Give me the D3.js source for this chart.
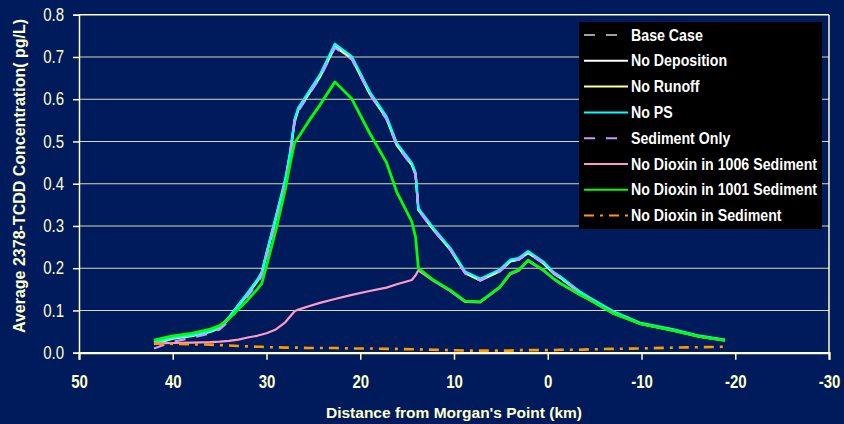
<!DOCTYPE html>
<html>
<head>
<meta charset="utf-8">
<script src="https://cdn.jsdelivr.net/npm/d3@7"></script>
<style>
  html, body { margin: 0; padding: 0; background: #001b5c; }
  svg { display: block; }
  text { font-family: "Liberation Sans", Arial, sans-serif; }
</style>
</head>
<body>
<svg id="chart" width="844" height="424"></svg>
<script>
// Distance from Morgan's Point (km), shared by every scenario
const distanceKm = [42, 40, 38, 36, 35, 34, 33, 32, 31, 30.5, 30, 29, 28, 27.5, 27, 26.6, 25.5, 24.3, 22.7, 20.9, 19, 17.2, 16.1, 14.5, 14.1, 13.8, 12.2, 10.4, 8.8, 7.2, 5.1, 4.0, 3.1, 2.1, 0.5, -0.6, -1.3, -3.4, -4.5, -7, -9.8, -13.4, -16.2, -18.9];

// Average 2378-TCDD concentration (pg/L) per scenario
const baseCase = [0.024, 0.036, 0.040, 0.050, 0.060, 0.082, 0.112, 0.140, 0.170, 0.190, 0.235, 0.320, 0.408, 0.470, 0.550, 0.578, 0.615, 0.656, 0.728, 0.699, 0.616, 0.557, 0.494, 0.447, 0.424, 0.340, 0.293, 0.246, 0.190, 0.173, 0.195, 0.218, 0.222, 0.238, 0.214, 0.189, 0.179, 0.143, 0.128, 0.097, 0.070, 0.054, 0.039, 0.030];
const noDeposition = [0.026, 0.038, 0.043, 0.053, 0.062, 0.084, 0.113, 0.141, 0.171, 0.190, 0.235, 0.320, 0.407, 0.469, 0.549, 0.577, 0.614, 0.655, 0.727, 0.698, 0.615, 0.556, 0.493, 0.446, 0.423, 0.339, 0.292, 0.245, 0.189, 0.172, 0.194, 0.217, 0.221, 0.237, 0.213, 0.188, 0.178, 0.143, 0.128, 0.096, 0.069, 0.053, 0.039, 0.030];
const noRunoff = [0.020, 0.033, 0.039, 0.049, 0.058, 0.080, 0.110, 0.138, 0.168, 0.188, 0.232, 0.317, 0.405, 0.466, 0.547, 0.575, 0.612, 0.652, 0.724, 0.696, 0.613, 0.554, 0.491, 0.444, 0.421, 0.338, 0.291, 0.244, 0.188, 0.171, 0.193, 0.216, 0.220, 0.236, 0.212, 0.188, 0.178, 0.142, 0.127, 0.096, 0.069, 0.053, 0.038, 0.029];
const noPS = [0.024, 0.036, 0.041, 0.051, 0.061, 0.083, 0.113, 0.142, 0.172, 0.191, 0.236, 0.322, 0.410, 0.472, 0.553, 0.580, 0.617, 0.658, 0.731, 0.701, 0.618, 0.559, 0.496, 0.449, 0.426, 0.342, 0.295, 0.248, 0.192, 0.175, 0.197, 0.220, 0.224, 0.240, 0.216, 0.191, 0.181, 0.145, 0.130, 0.098, 0.071, 0.055, 0.040, 0.031];
const sedimentOnly = [0.010, 0.026, 0.035, 0.046, 0.055, 0.075, 0.105, 0.134, 0.163, 0.183, 0.225, 0.310, 0.400, 0.462, 0.545, 0.572, 0.610, 0.650, 0.722, 0.694, 0.612, 0.552, 0.489, 0.443, 0.420, 0.337, 0.290, 0.243, 0.187, 0.171, 0.193, 0.216, 0.220, 0.236, 0.212, 0.188, 0.178, 0.142, 0.127, 0.096, 0.069, 0.053, 0.038, 0.029];
const noDioxin1006 = [0.022, 0.023, 0.024, 0.025, 0.026, 0.028, 0.031, 0.036, 0.040, 0.043, 0.046, 0.055, 0.072, 0.085, 0.098, 0.102, 0.110, 0.118, 0.127, 0.137, 0.146, 0.154, 0.162, 0.172, 0.183, 0.195, 0.170, 0.146, 0.120, 0.119, 0.154, 0.186, 0.194, 0.217, 0.195, 0.175, 0.164, 0.137, 0.124, 0.092, 0.069, 0.052, 0.038, 0.029];
const noDioxin1001 = [0.030, 0.040, 0.046, 0.056, 0.064, 0.080, 0.103, 0.125, 0.150, 0.164, 0.205, 0.290, 0.385, 0.445, 0.497, 0.510, 0.548, 0.586, 0.641, 0.601, 0.520, 0.450, 0.380, 0.310, 0.274, 0.200, 0.172, 0.148, 0.122, 0.121, 0.156, 0.188, 0.196, 0.219, 0.196, 0.176, 0.165, 0.138, 0.125, 0.093, 0.069, 0.052, 0.038, 0.029];
const noDioxinSediment = [0.022, 0.021, 0.020, 0.019, 0.018, 0.017, 0.016, 0.015, 0.014, 0.014, 0.013, 0.013, 0.012, 0.012, 0.012, 0.012, 0.011, 0.011, 0.011, 0.010, 0.010, 0.009, 0.009, 0.008, 0.008, 0.008, 0.007, 0.006, 0.005, 0.005, 0.005, 0.005, 0.006, 0.006, 0.006, 0.006, 0.007, 0.007, 0.008, 0.009, 0.010, 0.012, 0.013, 0.014];

const seriesNames = ["Base Case", "No Deposition", "No Runoff", "No PS", "Sediment Only", "No Dioxin in 1006 Sediment", "No Dioxin in 1001 Sediment", "No Dioxin in Sediment"];
const seriesValues = [baseCase, noDeposition, noRunoff, noPS, sedimentOnly, noDioxin1006, noDioxin1001, noDioxinSediment];
const seriesColors = ["#a0a0a0", "#ffffff", "#ffff99", "#00ffff", "#cc99ff", "#ff99cc", "#00ff00", "#ff9900"];
const seriesDashes = ["11,11", null, null, null, "11,11", null, null, "10,6,3,6"];
const seriesWidths = [2.2, 2.2, 2.2, 2.4, 2.2, 2.2, 2.8, 2.6];

const xTicks = [50, 40, 30, 20, 10, 0, -10, -20, -30];
const yTicks = [0, 0.1, 0.2, 0.3, 0.4, 0.5, 0.6, 0.7, 0.8];

const ink = "#ffffcc";
const svg = d3.select("#chart");

const x = d3.scaleLinear().domain([50, -30]).range([79, 829]);
const y = d3.scaleLinear().domain([0, 0.8]).range([352.7, 14.7]);

// horizontal grid lines (top one doubles as the plot frame)
svg.append("g").selectAll("line").data(yTicks.slice(1)).join("line")
  .attr("x1", x(50)).attr("x2", x(-30))
  .attr("y1", d => y(d)).attr("y2", d => y(d))
  .attr("stroke", d => d === 0.8 ? ink : "#dcd8b4")
  .attr("stroke-width", d => d === 0.8 ? 1.5 : 1.1);

// right frame edge
svg.append("line")
  .attr("x1", x(-30)).attr("x2", x(-30))
  .attr("y1", y(0.8)).attr("y2", y(0))
  .attr("stroke", ink).attr("stroke-width", 1.5);

// y axis
const yAxis = svg.append("g")
  .attr("transform", `translate(${x(50)},0)`)
  .call(d3.axisLeft(y).tickValues(yTicks).tickFormat(d3.format(".1f")).tickSize(6).tickPadding(9));
yAxis.select(".domain").attr("stroke", ink).attr("stroke-width", 1.5);
yAxis.selectAll(".tick line").attr("stroke", ink).attr("stroke-width", 1.5);
yAxis.selectAll(".tick text")
  .attr("fill", ink).attr("font-size", 15).attr("font-family", "Liberation Sans, Arial, sans-serif")
  .attr("transform", "scale(1,1.17)");

// x axis
const xAxis = svg.append("g")
  .attr("transform", `translate(0,${y(0)})`)
  .call(d3.axisBottom(x).tickValues(xTicks).tickFormat(d => String(d)).tickSize(7).tickPadding(4));
xAxis.select(".domain").attr("stroke", ink).attr("stroke-width", 2.2);
xAxis.selectAll(".tick line").attr("stroke", ink).attr("stroke-width", 1.5);
xAxis.selectAll(".tick text")
  .attr("fill", ink).attr("font-size", 15).attr("font-weight", "bold")
  .attr("font-family", "Liberation Sans, Arial, sans-serif")
  .attr("y", 30).attr("dy", 0)
  .attr("transform", "scale(1,1.17)");

// scenario lines
const line = d3.line().x((d, i) => x(distanceKm[i])).y(d => y(d));
svg.append("g").selectAll("path").data(seriesValues).join("path")
  .attr("d", d => line(d))
  .attr("fill", "none")
  .attr("stroke", (d, i) => seriesColors[i])
  .attr("stroke-width", (d, i) => seriesWidths[i])
  .attr("stroke-dasharray", (d, i) => seriesDashes[i])
  .attr("stroke-linejoin", "round");

// legend
const legend = svg.append("g");
legend.append("rect")
  .attr("x", 579).attr("y", 22).attr("width", 243).attr("height", 207)
  .attr("fill", "#000000");
const rows = legend.selectAll("g.row").data(seriesNames).join("g")
  .attr("class", "row")
  .attr("transform", (d, i) => `translate(584,${35 + i * 25.8})`);
rows.append("line")
  .attr("x1", 0).attr("x2", 44).attr("y1", 0).attr("y2", 0)
  .attr("stroke", (d, i) => seriesColors[i])
  .attr("stroke-width", 2)
  .attr("stroke-dasharray", (d, i) => seriesDashes[i]);
rows.append("text")
  .attr("x", 47).attr("y", 0).attr("dy", "0.35em")
  .attr("transform", "scale(1,1.12)")
  .attr("fill", "#ffffff").attr("font-size", 14.2).attr("font-weight", "bold")
  .text(d => d);

// axis titles
svg.append("text")
  .attr("transform", "translate(25,176) rotate(-90)")
  .attr("text-anchor", "middle")
  .attr("fill", ink).attr("font-size", 16).attr("font-weight", "bold")
  .text("Average 2378-TCDD Concentration( pg/L)");

svg.append("text")
  .attr("x", 454).attr("y", 418)
  .attr("text-anchor", "middle")
  .attr("fill", ink).attr("font-size", 15.5).attr("font-weight", "bold")
  .text("Distance from Morgan's Point (km)");
</script>
</body>
</html>
